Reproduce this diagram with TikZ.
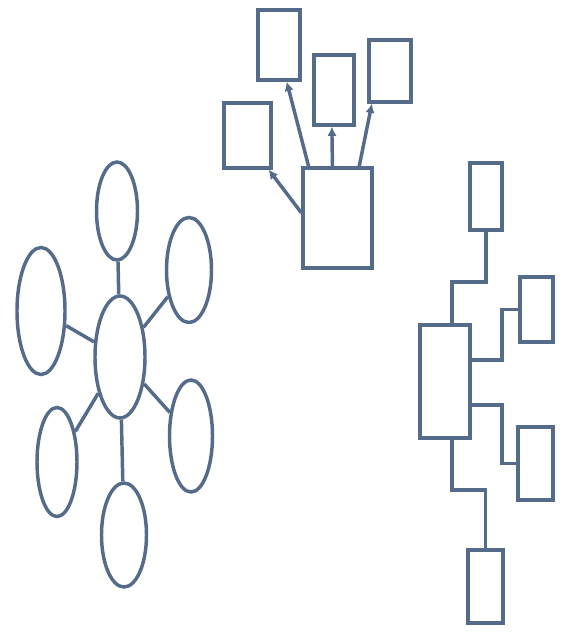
\documentclass[tikz,border=0pt]{standalone}
\usepackage{tikz}
\usetikzlibrary{shapes.geometric,calc,arrows.meta}
\definecolor{ink}{RGB}{84,108,138}

\begin{document}
\begin{tikzpicture}[x=0.75pt,y=-0.75pt]
      \tikzset{
      box/.style={draw=ink, line width=2.4pt, rectangle, inner sep=0pt},
      oval/.style={draw=ink, line width=2.6pt, ellipse, inner sep=0pt},
      link/.style={draw=ink, line width=2.6pt},
      tip/.style={-{Latex[length=7pt,width=7pt]}},
      }
      \useasboundingbox (0,0) rectangle (562,632);

      %Cluster 1 - boxes with arrows
      \node[box, minimum width=31.5pt, minimum height=52.5pt] (up1) at (279,45) {};
      \node[box, minimum width=30pt, minimum height=52.5pt] (up2) at (334,90) {};
      \node[box, minimum width=31.5pt, minimum height=46.5pt] (up3) at (390,71) {};
      \node[box, minimum width=35.25pt, minimum height=48.75pt] (up4) at (247.5,135.5) {};
      \node[box, minimum width=51.75pt, minimum height=75pt] (hub) at (337.5,218) {};
      %arrows to the small boxes
      \draw[link, tip] ($(hub.north west)!0.1!(hub.north east)$) -- ($(up1.south west)!0.67!(up1.south east)$);
      \draw[link, tip] ($(hub.north west)!0.43!(hub.north east)$) -- ($(up2.south west)!0.45!(up2.south east)$);
      \draw[link, tip] ($(hub.north west)!0.8!(hub.north east)$) -- ($(up3.south west)!0.1!(up3.south east)$);
      \draw[link, tip] ($(hub.north west)!0.45!(hub.south west)$) -- ($(up4.south west)!0.92!(up4.south east)$);

      %Cluster 2 - ovals
      \node[oval, minimum width=37.5pt, minimum height=91.5pt] (core) at (120,357) {};
      \node[oval, minimum width=30.75pt, minimum height=73.5pt] (o1) at (117,211) {};
      \node[oval, minimum width=33.75pt, minimum height=78.75pt] (o2) at (189,270) {};
      \node[oval, minimum width=32.25pt, minimum height=84pt] (o3) at (191,436) {};
      \node[oval, minimum width=33.75pt, minimum height=78pt] (o4) at (124,535) {};
      \node[oval, minimum width=30pt, minimum height=81.75pt] (o5) at (57,462) {};
      \node[oval, minimum width=36pt, minimum height=95.25pt] (o6) at (41,311) {};
      \foreach \o in {o1,o2,o3,o4,o5,o6}
        \draw[link] (core) -- (\o);

      %Cluster 3 - boxes with elbow lines
      \node[box, minimum width=24pt, minimum height=50.25pt] (rt) at (486,196.5) {};
      \node[box, minimum width=24.75pt, minimum height=48.75pt] (rur) at (536.5,309.5) {};
      \node[box, minimum width=37.5pt, minimum height=84.75pt] (rm) at (445,381.5) {};
      \node[box, minimum width=26.25pt, minimum height=54.75pt] (rlr) at (535.5,463.5) {};
      \node[box, minimum width=26.25pt, minimum height=54.75pt] (rb) at (485.5,586.5) {};
      \coordinate (k1) at (452,282);
      \coordinate (k2) at (502,360);
      \coordinate (k3) at (502,405);
      \coordinate (k4) at (452,490);
      \draw[link] (rt.south) |- (k1) -- (k1 |- rm.north);
      \draw[link] (k2 -| rm.east) -- (k2) |- (rur.west);
      \draw[link] (k3 -| rm.east) -- (k3) |- (rlr.west);
      \draw[link] (k4 |- rm.south) -- (k4) -| (rb.north);
\end{tikzpicture}
\end{document}
